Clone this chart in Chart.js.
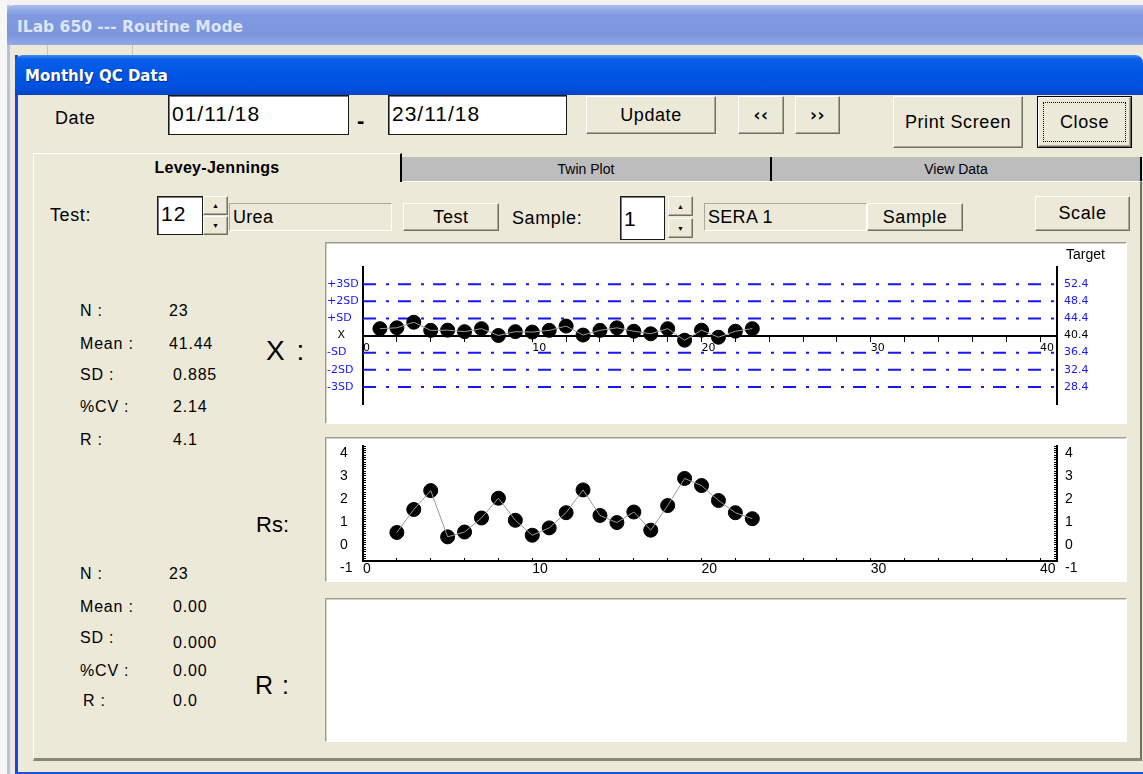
<!DOCTYPE html>
<html>
<head>
<meta charset="utf-8">
<title>Monthly QC Data</title>
<script src="https://cdn.jsdelivr.net/npm/chart.js@4.4.1/dist/chart.umd.min.js"></script>
<style>
html,body{margin:0;padding:0}
body{width:1143px;height:774px;position:relative;overflow:hidden;background:#f2f2f2;font-family:"Liberation Sans",Arial,sans-serif;color:#000}
div,canvas{position:absolute;box-sizing:border-box}
.t{white-space:pre;line-height:20px;font-size:16px;letter-spacing:.8px}
.ui{font-size:18px;letter-spacing:.6px;white-space:pre;line-height:20px}
.btn{background:#ece9d8;border:1px solid;border-color:#fff #716f64 #716f64 #fff;box-shadow:inset -1px -1px #aca899;display:flex;align-items:center;justify-content:center;font-size:18px;letter-spacing:.6px;white-space:pre}
.edit{background:#fff;border:1px solid #1a1a1a;box-shadow:inset 1px 1px #7a7a7a;font-size:21px;letter-spacing:1px;padding-left:3px;line-height:36px;white-space:pre}
.ro{background:#ece9d8;border:1px solid;border-color:#aca899 #fff #fff #aca899;font-size:18px;letter-spacing:.3px;padding-left:3px;line-height:26px;white-space:pre}
.spin{background:#ece9d8;border:1px solid;border-color:#fff #716f64 #716f64 #fff;box-shadow:inset -1px -1px #aca899;font-size:7px;display:flex;align-items:center;justify-content:center}
.box{background:#fff;border:1px solid;border-color:#9d9b8e #fff #fff #9d9b8e;box-shadow:inset 1px 1px #d4d0c8}
.tab{background:#bdbdbd;border-right:2px solid #000;font-size:14px;display:flex;align-items:center;justify-content:center}
</style>
</head>
<body>
<!-- outer application window -->
<div style="left:0;top:0;width:7px;height:774px;background:#f7f7f7"></div>
<div style="left:7px;top:5px;width:1136px;height:769px;background:#ece9d8;border-left:3px solid #b3c1ea"></div>
<div style="left:7px;top:5px;width:1136px;height:40px;border-radius:7px 0 0 0;background:linear-gradient(#aabcee,#8099e0 25%,#7c96de 75%,#93a9e6)"></div>
<div style="left:17px;top:18px;color:#dde5f8;font:bold 15.5px 'DejaVu Sans',sans-serif;white-space:pre">ILab 650 --- Routine Mode</div>
<div style="left:47px;top:45px;width:1px;height:10px;background:#c8c4b0"></div>
<div style="left:132px;top:45px;width:1px;height:10px;background:#c8c4b0"></div>

<!-- dialog -->
<div style="left:15px;top:55px;width:1128px;height:719px;background:#ece9d8;border-left:3px solid #1247d8;border-bottom:2px solid #1a52e0"></div>
<div style="left:15px;top:55px;width:1128px;height:40px;border-radius:8px 8px 0 0;background:linear-gradient(#3d8df8 0%,#0a5fe8 10%,#0056e4 45%,#0050dc 85%,#0043c4 100%)"></div>
<div style="left:25px;top:67px;color:#fff;font:bold 15px 'DejaVu Sans',sans-serif;white-space:pre;text-shadow:1px 1px #0a2a8a">Monthly QC Data</div>

<!-- top controls -->
<div class="ui" style="left:55px;top:108px">Date</div>
<div class="edit" style="left:168px;top:95px;width:181px;height:40px">01/11/18</div>
<div style="left:357px;top:108px;font:bold 22px 'Liberation Sans',sans-serif">-</div>
<div class="edit" style="left:388px;top:95px;width:179px;height:40px">23/11/18</div>
<div class="btn" style="left:586px;top:96px;width:130px;height:38px">Update</div>
<div class="btn" style="left:738px;top:96px;width:46px;height:38px;font:bold 17px 'DejaVu Sans',sans-serif">‹‹</div>
<div class="btn" style="left:795px;top:96px;width:45px;height:38px;font:bold 17px 'DejaVu Sans',sans-serif">››</div>
<div class="btn" style="left:893px;top:96px;width:130px;height:52px">Print Screen</div>
<div style="left:1037px;top:96px;width:95px;height:52px;border:1px solid #000"></div>
<div class="btn" style="left:1038px;top:97px;width:93px;height:50px">Close</div>
<div style="left:1043px;top:102px;width:83px;height:40px;border:1px dotted #000"></div>

<!-- tabs -->
<div style="left:33px;top:181px;width:1109px;height:580px;border-top:1px solid #fff;border-left:1px solid #fff;border-right:2px solid #716f64;border-bottom:3px solid #8a887c"></div>
<div style="left:33px;top:153px;width:369px;height:29px;background:#ece9d8;border-top:1px solid #fff;border-left:1px solid #fff;border-right:2px solid #000;display:flex;align-items:center;justify-content:center;font:bold 16px 'Liberation Sans',sans-serif;letter-spacing:.3px">Levey-Jennings</div>
<div class="tab" style="left:402px;top:157px;width:370px;height:24px">Twin Plot</div>
<div class="tab" style="left:772px;top:157px;width:370px;height:24px">View Data</div>

<!-- test / sample row -->
<div class="ui" style="left:50px;top:205px">Test:</div>
<div class="edit" style="left:157px;top:196px;width:46px;height:39px;line-height:34px">12</div>
<div class="spin" style="left:203px;top:196px;width:25px;height:19px">▲</div>
<div class="spin" style="left:203px;top:216px;width:25px;height:19px">▼</div>
<div class="ro" style="left:229px;top:203px;width:163px;height:28px">Urea</div>
<div class="btn" style="left:403px;top:203px;width:96px;height:28px">Test</div>
<div class="ui" style="left:512px;top:208px">Sample:</div>
<div class="edit" style="left:620px;top:196px;width:45px;height:44px;line-height:44px">1</div>
<div class="spin" style="left:668px;top:196px;width:25px;height:20px">▲</div>
<div class="spin" style="left:668px;top:218px;width:25px;height:20px">▼</div>
<div class="ro" style="left:704px;top:203px;width:163px;height:28px">SERA 1</div>
<div class="btn" style="left:867px;top:203px;width:96px;height:28px">Sample</div>
<div class="btn" style="left:1035px;top:196px;width:95px;height:35px">Scale</div>

<!-- statistics -->
<div class="t" style="left:80px;top:301px">N :</div>
<div class="t" style="left:169px;top:301px">23</div>
<div class="t" style="left:80px;top:334px">Mean :</div>
<div class="t" style="left:169px;top:334px">41.44</div>
<div class="t" style="left:80px;top:365px">SD :</div>
<div class="t" style="left:173px;top:365px">0.885</div>
<div class="t" style="left:80px;top:397px">%CV :</div>
<div class="t" style="left:173px;top:397px">2.14</div>
<div class="t" style="left:80px;top:430px">R :</div>
<div class="t" style="left:173px;top:430px">4.1</div>

<div class="t" style="left:80px;top:564px">N :</div>
<div class="t" style="left:169px;top:564px">23</div>
<div class="t" style="left:80px;top:597px">Mean :</div>
<div class="t" style="left:173px;top:597px">0.00</div>
<div class="t" style="left:80px;top:628px">SD :</div>
<div class="t" style="left:173px;top:633px">0.000</div>
<div class="t" style="left:80px;top:661px">%CV :</div>
<div class="t" style="left:173px;top:661px">0.00</div>
<div class="t" style="left:83px;top:691px">R :</div>
<div class="t" style="left:173px;top:691px">0.0</div>

<div style="left:266px;top:334px;font-size:28px;line-height:34px;letter-spacing:2px;white-space:pre">X :</div>
<div style="left:256px;top:511px;font-size:22px;line-height:28px;white-space:pre">Rs:</div>
<div style="left:255px;top:670px;font-size:25px;line-height:30px;letter-spacing:1px;white-space:pre">R :</div>

<!-- chart boxes -->
<div class="box" style="left:325px;top:242px;width:802px;height:182px"></div>
<canvas id="xChart" width="800" height="180" style="left:326px;top:243px"></canvas>
<div style="left:1066px;top:245px;font-size:14px;line-height:18px;white-space:pre">Target</div>

<div class="box" style="left:325px;top:437px;width:802px;height:145px"></div>
<canvas id="rsChart" width="800" height="143" style="left:326px;top:438px"></canvas>

<div class="box" style="left:325px;top:598px;width:802px;height:144px"></div>

<script>
// run numbers and results
const runIndex = [1, 2, 3, 4, 5, 6, 7, 8, 9, 10, 11, 12, 13, 14, 15, 16, 17, 18, 19, 20, 21, 22, 23];
const xResults = [42.0, 42.2, 43.5, 41.6, 41.65, 41.3, 42.0, 40.4, 41.3, 41.2, 41.6, 42.6,
                  40.5, 41.6, 42.2, 41.4, 40.8, 42.0, 39.3, 41.65, 40.0, 41.4, 42.0];

// moving range (Rs) from run 2 on
const rsIndex = [2, 3, 4, 5, 6, 7, 8, 9, 10, 11, 12, 13, 14, 15, 16, 17, 18, 19, 20, 21, 22, 23];
const rsValues = [0.24, 1.24, 2.06, 0.05, 0.26, 0.87, 1.73, 0.77, 0.12, 0.44, 1.1, 2.09,
                  0.98, 0.67, 1.13, 0.34, 1.41, 2.59, 2.28, 1.63, 1.1, 0.84];

// control limits (target 40.4, SD 4)
const targetValue = 40.4;
const sdLevels = [28.4, 32.4, 36.4, 40.4, 44.4, 48.4, 52.4];
const sdNames = ['-3SD', '-2SD', '-SD', '   X', '+SD', '+2SD', '+3SD'];

const runMin = 0, runMax = 41;
const rsMin = -1, rsMax = 4;

const BLUE = '#1717ff';
const dejavu = {family: 'DejaVu Sans', size: 11};
const arial = {family: 'Liberation Sans', size: 14, lineHeight: '14px'};

function pts(xs, ys) {
    return xs.map((x, i) => ({x: x, y: ys[i]}));
}

function qcDatasets(xs, ys) {
    return [
        // thin connecting line, drawn over the dots
        {data: pts(xs, ys), borderColor: '#9a9a9a', borderWidth: 1, pointRadius: 0, order: 0},
        {data: pts(xs, ys), showLine: false, pointRadius: 7, pointBackgroundColor: '#000',
         pointBorderColor: '#000', pointBorderWidth: 1, order: 1}
    ];
}

// keep the plot area where it is, whatever the labels want
function fixSize(w, h) {
    return s => {
        if (w !== null) s.width = w;
        if (h !== null) s.height = h;
        s.paddingTop = 0; s.paddingBottom = 0;
        s.paddingLeft = 0; s.paddingRight = 0;
    };
}

const base = {
    responsive: false,
    animation: false,
    events: [],
    plugins: {legend: {display: false}, tooltip: {enabled: false}}
};

let sdLines = sdLevels.filter(v => v !== targetValue).map(v => ({
    data: [{x: runMin, y: v}, {x: runMax, y: v}],
    borderColor: BLUE,
    borderWidth: 2,
    borderDash: [13, 10, 3, 9],
    pointRadius: 0,
    order: 2
}));

new Chart(document.getElementById('xChart'), {
    type: 'line',
    data: {datasets: qcDatasets(runIndex, xResults).concat(sdLines)},
    options: Object.assign({}, base, {
        layout: {padding: {left: 1, top: 24, right: 0, bottom: 19}},
        scales: {
            x: {
                type: 'linear', min: runMin, max: runMax,
                position: {y: targetValue},
                afterFit: fixSize(null, 0),
                ticks: {stepSize: 2, includeBounds: false, autoSkip: false, maxRotation: 0,
                        align: 'start', padding: 1, color: '#000', font: dejavu,
                        callback: v => v % 10 === 0 ? String(v) : ''},
                grid: {drawOnChartArea: false, tickLength: 5, color: '#000'},
                border: {color: '#000', width: 2}
            },
            y: {
                position: 'left', min: 24.4, max: 56.4,
                afterBuildTicks: s => { s.ticks = sdLevels.map(v => ({value: v})); },
                afterFit: fixSize(36, null),
                ticks: {autoSkip: false, crossAlign: 'far', font: dejavu,
                        color: c => c.tick && c.tick.value === targetValue ? '#000' : BLUE,
                        callback: (v, i) => sdNames[i]},
                grid: {drawOnChartArea: false, drawTicks: false},
                border: {color: '#000', width: 2}
            },
            y2: {
                position: 'right', min: 24.4, max: 56.4,
                afterBuildTicks: s => { s.ticks = sdLevels.map(v => ({value: v})); },
                afterFit: fixSize(69, null),
                ticks: {autoSkip: false, padding: 7, font: dejavu,
                        color: c => c.tick && c.tick.value === targetValue ? '#000' : BLUE,
                        callback: v => v.toFixed(1)},
                grid: {drawOnChartArea: false, drawTicks: false},
                border: {color: '#000', width: 2}
            }
        }
    })
});

function wholeLabel(v) {
    // labels sit a little below their value, as in the original
    return Math.abs(v - Math.round(v)) < 1e-6 ? ['', String(Math.round(v))] : '';
}

new Chart(document.getElementById('rsChart'), {
    type: 'line',
    data: {datasets: qcDatasets(rsIndex, rsValues)},
    options: Object.assign({}, base, {
        layout: {padding: {left: 14, top: 7, right: 0, bottom: 0}},
        scales: {
            x: {
                type: 'linear', min: runMin, max: runMax, position: 'bottom',
                afterFit: fixSize(null, 20),
                ticks: {stepSize: 2, includeBounds: false, autoSkip: false, maxRotation: 0,
                        align: 'start', padding: 4, color: '#000', font: arial,
                        callback: v => v % 10 === 0 ? String(v) : ''},
                grid: {drawOnChartArea: false, tickLength: -3, color: '#000'},
                border: {color: '#000', width: 2}
            },
            y: {
                position: 'left', min: rsMin, max: rsMax,
                afterFit: fixSize(23, null),
                ticks: {stepSize: 0.1, autoSkip: false, crossAlign: 'far', color: '#000', font: arial,
                        callback: wholeLabel},
                grid: {drawOnChartArea: false, tickLength: -3, color: '#000'},
                border: {color: '#000', width: 2}
            },
            y2: {
                position: 'right', min: rsMin, max: rsMax,
                afterFit: fixSize(69, null),
                ticks: {stepSize: 0.1, autoSkip: false, padding: 11, color: '#000', font: arial,
                        callback: wholeLabel},
                grid: {drawOnChartArea: false, tickLength: -3, color: '#000'},
                border: {color: '#000', width: 2}
            }
        }
    })
});
</script>
</body>
</html>
